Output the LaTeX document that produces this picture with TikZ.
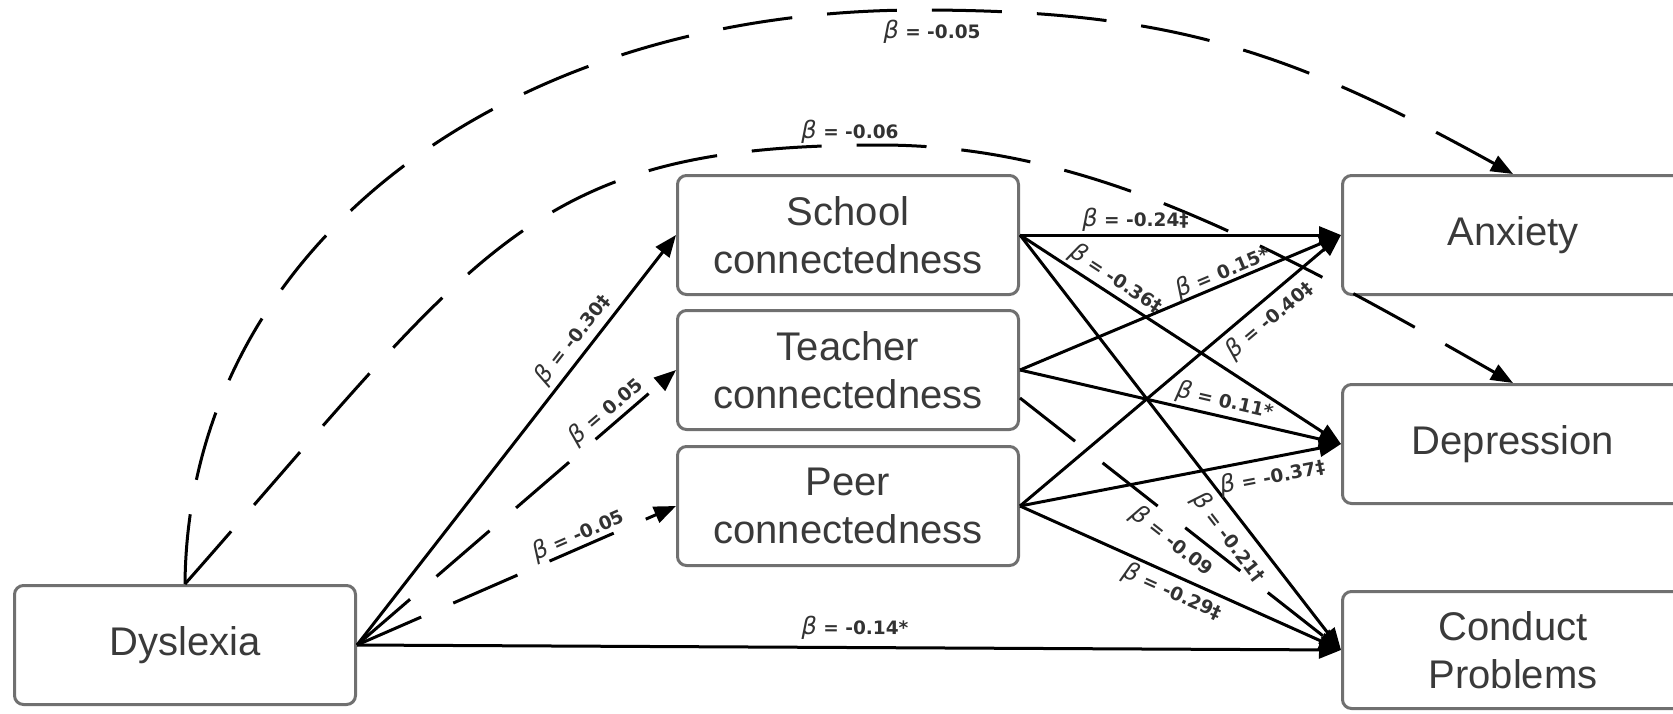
\documentclass[tikz,border=0pt]{standalone}
\usepackage{fontspec}
\setmainfont{Liberation Sans}
\newfontfamily\labfont{DejaVu Sans}
\usetikzlibrary{arrows.meta}
\definecolor{boxedge}{RGB}{112,112,112}
\definecolor{boxtext}{RGB}{58,58,58}
\definecolor{labtext}{RGB}{50,50,50}
% the coefficient symbol: a larger, light oblique beta that does not change the label height
\newcommand\bsym{\smash{\fontsize{24}{20}\selectfont\mdseries\itshape β}}
\begin{document}
\begin{tikzpicture}[x=1pt,y=-1pt,
  varbox/.style={draw=boxedge, line width=3pt, rounded corners=9pt,
    minimum width=341pt, minimum height=119pt, inner sep=0pt,
    align=center, text=boxtext, font=\fontsize{40}{48}\selectfont},
  link/.style={line width=3pt, -{Triangle[length=22pt,width=17pt]}},
  dlink/.style={link, dash pattern=on 70pt off 35pt},
  coef/.style={font=\labfont\bfseries\fontsize{18.5}{21}\selectfont,
    text=labtext, inner sep=2.5pt}
]
\useasboundingbox (0,0) rectangle (1673,713);
\clip (0,0) rectangle (1673,713);

% variables
\node[varbox] (dys) at (185,645) {Dyslexia};
\node[varbox] (school) at (848,235) {School\\connectedness};
\node[varbox] (teacher) at (848,370) {Teacher\\connectedness};
\node[varbox] (peer) at (848,506) {Peer\\connectedness};
\node[varbox] (anx) at (1513,235) {Anxiety};
\node[varbox] (dep) at (1513,444) {Depression};
\node[varbox, minimum height=117pt] (cond) at (1513,650) {Conduct\\Problems};

% direct effects of dyslexia on the outcomes
\draw[dlink] (dys.north) .. controls (188,250) and (500,10) .. (920,10)
  node[coef, below=11pt, xshift=12pt] {\bsym{} = -0.05}
  .. controls (1170,10) and (1291,51) .. (anx.north);
\draw[dlink] (dys.north) .. controls (483,246) and (530,145) .. (880,145)
  node[coef, above=2pt, xshift=-30pt] {\bsym{} = -0.06}
  .. controls (1080,145) and (1251,233) .. (dep.north);
\draw[link] (dys.east) -- node[coef, sloped, above=9pt, pos=0.506] {\bsym{} = -0.14*} (cond.west);

% dyslexia to the connectedness mediators
\draw[link] (dys.east) -- node[coef, sloped, above=5pt, pos=0.72] {\bsym{} = -0.30‡} (school.west);
\draw[dlink] (dys.east) -- node[coef, sloped, above=4pt, pos=0.81] {\bsym{} = 0.05} (teacher.west);
\draw[dlink] (dys.east) -- node[coef, sloped, above=1.5pt, pos=0.71] {\bsym{} = -0.05} (peer.west);

% mediators to the outcomes
\draw[link] (school.east) -- node[coef, sloped, above=2.5pt, pos=0.36] {\bsym{} = -0.24‡} (anx.west);
\draw[link] (school.east) -- node[coef, sloped, above=3.5pt, pos=0.273] {\bsym{} = -0.36‡} (dep.west);
\draw[link] (school.east) -- node[coef, sloped, below=9pt, pos=0.70] {\bsym{} = -0.21†} (cond.west);

\draw[link] (teacher.east) -- node[coef, sloped, above=0.5pt, pos=0.646] {\bsym{} = 0.15*} (anx.west);
\draw[link] (teacher.east) -- node[coef, sloped, above=5pt, pos=0.627] {\bsym{} = 0.11*} (dep.west);
\draw[dlink] ([yshift=-28pt]teacher.east) -- node[coef, sloped, below=7.5pt, pos=0.51] {\bsym{} = -0.09} (cond.west);

\draw[link] (peer.east) -- node[coef, sloped, below=7.5pt, pos=0.74] {\bsym{} = -0.40‡} (anx.west);
\draw[link] (peer.east) -- node[coef, sloped, below=8pt, pos=0.775] {\bsym{} = -0.37‡} (dep.west);
\draw[link] (peer.east) -- node[coef, sloped, below=5pt, pos=0.496] {\bsym{} = -0.29‡} (cond.west);
\end{tikzpicture}
\end{document}
